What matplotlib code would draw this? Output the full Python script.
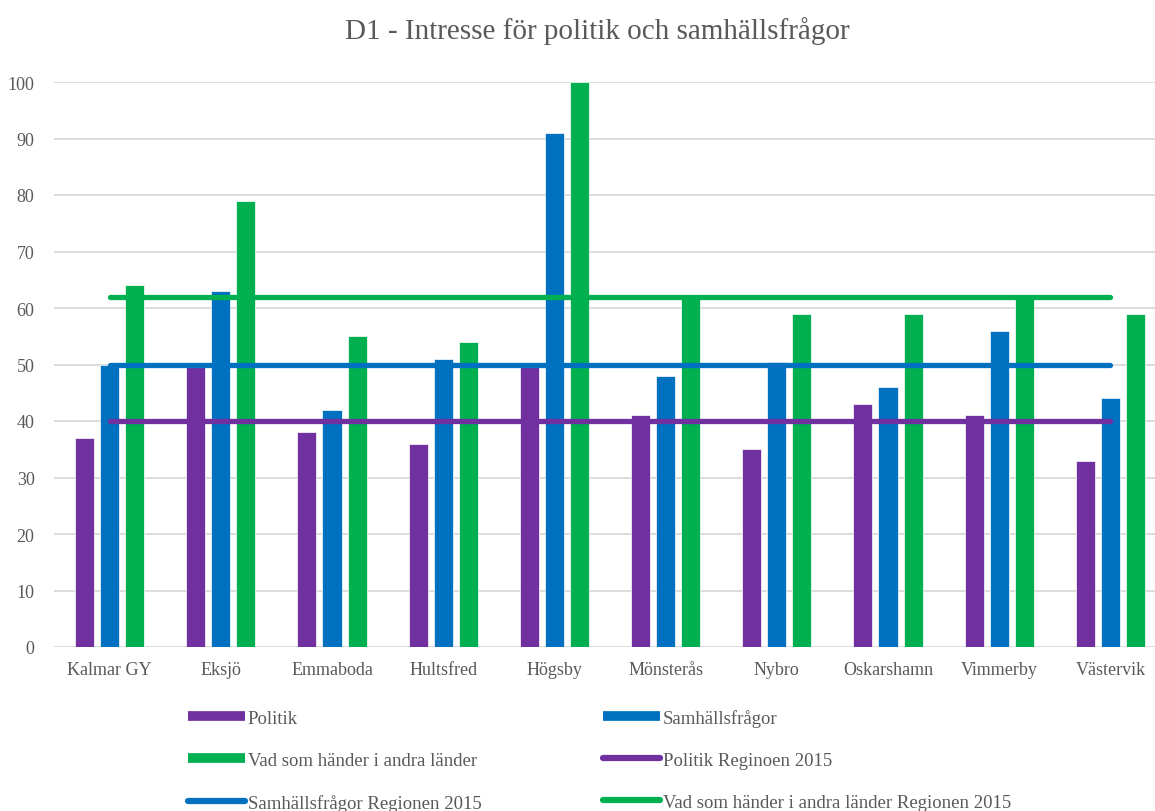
import numpy as np
import matplotlib
matplotlib.use("Agg")
import matplotlib.pyplot as plt
from matplotlib.lines import Line2D

# data
schools = ["Kalmar GY", "Eksjö", "Emmaboda", "Hultsfred", "Högsby",
           "Mönsterås", "Nybro", "Oskarshamn", "Vimmerby", "Västervik"]
politik = [37, 49.6, 38, 36, 49.5, 41, 35, 43, 41, 33]
samhalle = [50, 63, 42, 51, 91, 48, 50.4, 46, 56, 44]
andra_lander = [64, 79, 55, 54, 100, 61.7, 59, 59, 61.7, 59]
politik_region = 40
samhalle_region = 50
andra_region = 62

purple = "#7030A0"
blue = "#0070C0"
green = "#00B050"
txt = "#595959"
serif = ["Liberation Serif", "DejaVu Serif"]

plt.rcParams["font.family"] = serif

fig = plt.figure(figsize=(11.55, 8.12), dpi=100)
# plot area runs a little past the right edge, like the reference crop
ax = fig.add_axes([54 / 1155, 164 / 812, 1112 / 1155, 565 / 812])

x = np.arange(len(schools))
w = 0.171
step = 0.225
ax.bar(x - step, politik, w, color=purple, edgecolor="white", linewidth=0.5, zorder=2)
ax.bar(x, samhalle, w, color=blue, edgecolor="white", linewidth=0.5, zorder=2)
ax.bar(x + step, andra_lander, w, color=green, edgecolor="white", linewidth=0.5, zorder=2)

ends = [x[0], x[-1]]
ax.plot(ends, [politik_region] * 2, color=purple, lw=3.8, solid_capstyle="round", zorder=3)
ax.plot(ends, [samhalle_region] * 2, color=blue, lw=3.8, solid_capstyle="round", zorder=3)
ax.plot(ends, [andra_region] * 2, color=green, lw=3.8, solid_capstyle="round", zorder=3)

ax.set_xlim(-0.5, len(schools) - 0.5)
ax.set_ylim(0, 100)
ax.set_yticks(np.arange(0, 101, 10))
ax.set_xticks(x)
ax.set_xticklabels(schools)
ax.yaxis.grid(True, color="#D9D9D9", lw=1.3, zorder=0)
ax.set_axisbelow(True)
for s in ax.spines.values():
    s.set_visible(False)
ax.tick_params(length=0, labelsize=13, colors=txt, pad=10)
ax.tick_params(axis="y", pad=14)

fig.text(597 / 1155, 1 - 31 / 812, "D1 - Intresse för politik och samhällsfrågor",
         ha="center", va="center", fontsize=21, color=txt)

def bar_h(c):
    return Line2D([], [], color=c, lw=7, solid_capstyle="butt")

def line_h(c):
    return Line2D([], [], color=c, lw=4.5, solid_capstyle="round")

# column-first order for a 2 column legend
handles = [bar_h(purple), bar_h(green), line_h(blue),
           bar_h(blue), line_h(purple), line_h(green)]
labels = ["Politik", "Vad som händer i andra länder", "Samhällsfrågor Regionen 2015",
          "Samhällsfrågor", "Politik Reginoen 2015", "Vad som händer i andra länder Regionen 2015"]
leg = fig.legend(handles, labels, ncol=2, loc="upper left",
                 bbox_to_anchor=(188 / 1155, 1 - 710 / 812), frameon=False,
                 fontsize=13.5, handlelength=3.04, handletextpad=0.15,
                 columnspacing=6.5, labelspacing=1.33, borderpad=0, borderaxespad=0)
for t in leg.get_texts():
    t.set_color(txt)

fig.savefig("out.png", dpi=100)
